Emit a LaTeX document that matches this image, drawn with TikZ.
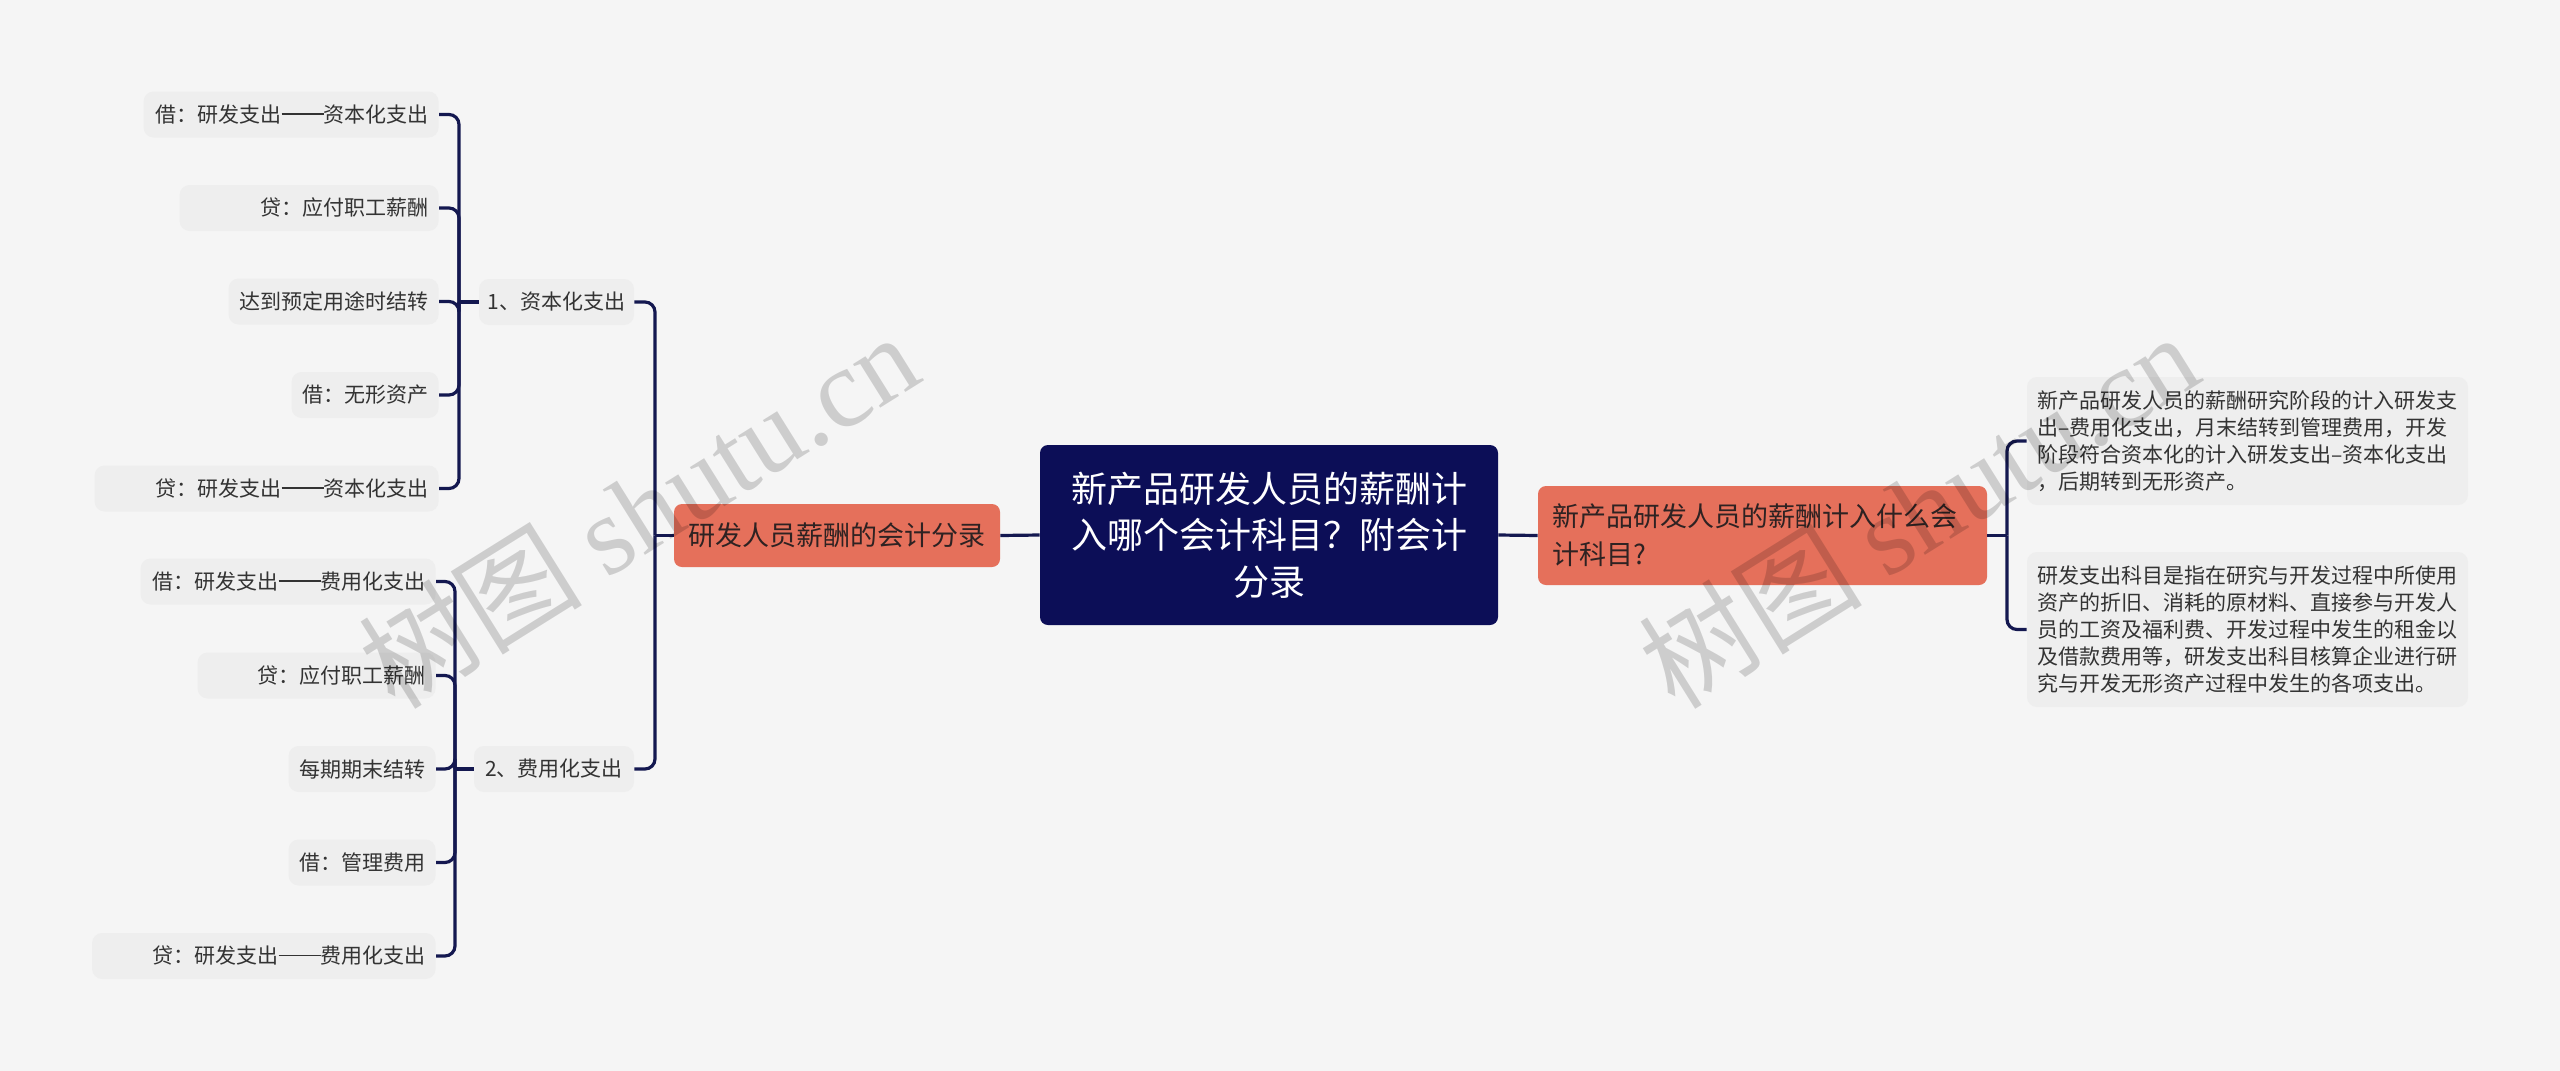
\documentclass[tikz,border=0pt]{standalone}
\usepackage{fontspec}
\setmainfont{Noto Sans CJK SC}
\newfontfamily\wmlatin{Liberation Serif}
\newcommand\twodash{\rule[0.36em]{2em}{0.07em}}
\definecolor{bgc}{HTML}{F5F5F5}
\definecolor{navy}{HTML}{0C0E57}
\definecolor{salmon}{HTML}{E5705B}
\definecolor{leafbg}{HTML}{EEEEEE}
\definecolor{txt}{HTML}{333333}
\definecolor{maintxt}{HTML}{2E2222}
\definecolor{linec}{HTML}{141850}
\tikzset{
  rootbox/.style={fill=navy, text=white, rounded corners=4pt, minimum width=229pt, minimum height=90pt,
    align=center, inner sep=0pt, font=\fontsize{18}{23.25}\selectfont},
  mainbox/.style={fill=salmon, text=maintxt, rounded corners=4pt, inner sep=0pt,
    font=\fontsize{13.5}{19}\selectfont},
  leaf/.style={fill=leafbg, text=txt, rounded corners=5pt, minimum height=23pt, anchor=east,
    inner xsep=5pt, inner ysep=0pt, align=right, font=\fontsize{10.5}{14}\selectfont},
  midbox/.style={fill=leafbg, text=txt, rounded corners=5pt, minimum height=23pt,
    inner sep=0pt, align=center, font=\fontsize{10.5}{14}\selectfont},
  notebox/.style={fill=leafbg, text=txt, rounded corners=5pt, minimum width=220.5pt,
    text width=210.5pt, inner xsep=5pt, inner ysep=0pt, align=left, font=\fontsize{10.5}{13.5}\selectfont},
  conn/.style={draw=linec, line width=1.6pt, rounded corners=5pt},
  wmark/.style={text=black, text opacity=0.16, rotate=32, anchor=base west, inner sep=0pt,
    font=\fontsize{56}{56}\selectfont}
}
\begin{document}
\begin{tikzpicture}[x=0.5pt,y=-0.5pt]
\fill[bgc] (0,0) rectangle (2560,1071);
\useasboundingbox (0,0) rectangle (2560,1071);

% root and main branches
\node[rootbox] (root) at (1269,535) {新产品研发人员的薪酬计\\入哪个会计科目？附会计\\分录};
\node[mainbox, minimum width=163pt, minimum height=31.5pt, align=center] (lm) at (837,535.5) {研发人员薪酬的会计分录};
\node[mainbox, minimum width=224.5pt, minimum height=49.5pt, text width=210.5pt, inner xsep=7pt, align=left] (rm) at (1762.5,535.5) {新产品研发人员的薪酬计入什么会\\计科目?};

% second level on the left
\node[midbox, minimum width=77.5pt] (c0) at (556.5,302) {1、资本化支出};
\node[midbox, minimum width=80pt] (e0) at (554,769) {2、费用化支出};

% capitalised leaves
\node[leaf, text width=137.5pt] (c1) at (439,114.5) {借：研发支出\twodash 资本化支出};
\node[leaf, text width=119.5pt] (c2) at (439,208) {贷：应付职工薪酬};
\node[leaf, text width=95pt] (c3) at (439,301.5) {达到预定用途时结转};
\node[leaf, text width=63.5pt] (c4) at (439,395) {借：无形资产};
\node[leaf, text width=162pt] (c5) at (439,488.5) {贷：研发支出\twodash 资本化支出};

% expensed leaves
\node[leaf, text width=137.5pt] (e1) at (436,581.5) {借：研发支出\twodash 费用化支出};
\node[leaf, text width=109pt] (e2) at (436,675.5) {贷：应付职工薪酬};
\node[leaf, text width=63.5pt] (e3) at (436,769) {每期期末结转};
\node[leaf, text width=63.5pt] (e4) at (436,862.5) {借：管理费用};
\node[leaf, text width=161.75pt] (e5) at (436,956) {贷：研发支出\twodash 费用化支出};

% right notes
\node[notebox, minimum height=64pt] (r1) at (2247.5,441) {新产品研发人员的薪酬研究阶段的计入研发支\\出–费用化支出，月末结转到管理费用，开发\\阶段符合资本化的计入研发支出–资本化支出\\，后期转到无形资产。};
\node[notebox, minimum height=77.5pt] (r2) at (2247.5,629.5) {研发支出科目是指在研究与开发过程中所使用\\资产的折旧、消耗的原材料、直接参与开发人\\员的工资及福利费、开发过程中发生的租金以\\及借款费用等，研发支出科目核算企业进行研\\究与开发无形资产过程中发生的各项支出。};

% junctions
\coordinate (jL) at (655,535.5);
\coordinate (jC) at (459,302);
\coordinate (jE) at (455,769);
\coordinate (jR) at (2007,535.5);

% connectors
\draw[conn] (root.west) -- (lm.east);
\draw[conn] (root.east) -- (rm.west);
\draw[conn] (jL) -- (lm.west);
\draw[conn] (c0.east) -| (jL);
\draw[conn] (e0.east) -| (jL);
\draw[conn] (jC) -- (c0.west);
\foreach \n in {c1,c2,c3,c4,c5} { \draw[conn] (\n.east) -| (jC); }
\draw[conn] (jE) -- (e0.west);
\foreach \n in {e1,e2,e3,e4,e5} { \draw[conn] (\n.east) -| (jE); }
\draw[conn] (rm.east) -- (jR);
\draw[conn] (r1.west) -| (jR);
\draw[conn] (r2.west) -| (jR);

% watermarks
\node[wmark] (w1) at (395,712) {树图 {\wmlatin shutu.cn}};
\node[wmark] (w2) at (1675,712) {树图 {\wmlatin shutu.cn}};
\end{tikzpicture}
\end{document}
